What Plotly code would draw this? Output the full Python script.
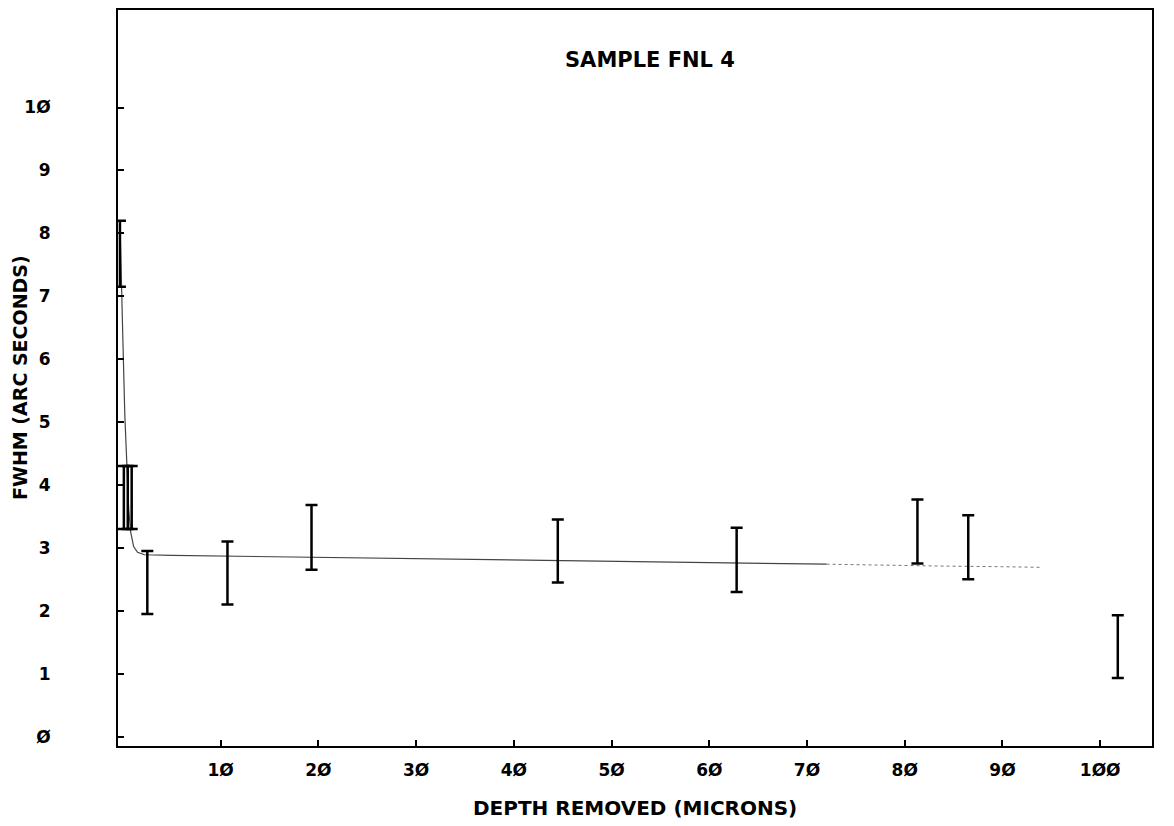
import plotly.graph_objects as go

# measured points: depth removed (microns), FWHM range (arc seconds)
depth = [-0.3, 0.1, 0.5, 0.9, 2.5, 10.7, 19.3, 44.5, 62.8, 81.3, 86.5, 101.8]
fwhm_low = [7.15, 3.3, 3.3, 3.3, 1.95, 2.1, 2.65, 2.45, 2.3, 2.75, 2.5, 0.93]
fwhm_high = [8.2, 4.3, 4.3, 4.3, 2.95, 3.1, 3.68, 3.45, 3.32, 3.77, 3.52, 1.93]

# fitted curve
fit_x = [-0.3, -0.15, 0.0, 0.2, 0.4, 0.6, 0.8, 1.1, 1.5, 2.2, 5, 10, 20, 30, 45, 63, 72]
fit_y = [8.2, 7.4, 6.3, 5.1, 4.2, 3.6, 3.25, 3.02, 2.93, 2.89, 2.88, 2.87, 2.85, 2.83, 2.8, 2.76, 2.74]
tail_x = [72, 78, 84, 90, 94]
tail_y = [2.74, 2.72, 2.71, 2.7, 2.69]

x_ticks = [10, 20, 30, 40, 50, 60, 70, 80, 90, 100]
x_ticktext = ["1Ø", "2Ø", "3Ø", "4Ø", "5Ø", "6Ø", "7Ø", "8Ø", "9Ø", "1ØØ"]
y_ticks = [0, 1, 2, 3, 4, 5, 6, 7, 8, 9, 10]
y_ticktext = ["Ø", "1", "2", "3", "4", "5", "6", "7", "8", "9", "1Ø"]

mid = [(a + b) / 2 for a, b in zip(fwhm_low, fwhm_high)]
half = [(b - a) / 2 for a, b in zip(fwhm_low, fwhm_high)]

tick_font = dict(family="DejaVu Sans", size=17, color="black", weight="bold")
label_font = dict(family="DejaVu Sans", size=20, color="black", weight="bold")

fig = go.Figure()
fig.add_trace(go.Scatter(
    x=fit_x, y=fit_y, mode="lines",
    line=dict(color="#444444", width=1.2),
    hoverinfo="skip",
))
fig.add_trace(go.Scatter(
    x=tail_x, y=tail_y, mode="lines",
    line=dict(color="#777777", width=1, dash="dot"),
    hoverinfo="skip",
))
fig.add_trace(go.Scatter(
    x=depth, y=mid, mode="markers",
    marker=dict(size=1, color="black"),
    error_y=dict(type="data", array=half, visible=True,
                 color="black", thickness=2.5, width=6),
))

# page body has an 8px margin, so margins are reduced by that amount
fig.update_layout(
    width=1174,
    height=826,
    paper_bgcolor="white",
    plot_bgcolor="white",
    showlegend=False,
    margin=dict(l=110, r=30, t=0, b=88),
    xaxis=dict(
        range=[-0.5, 105.3],
        tickvals=x_ticks,
        ticktext=x_ticktext,
        ticks="inside",
        ticklen=6,
        tickwidth=2,
        tickcolor="black",
        showline=True,
        linecolor="black",
        linewidth=2,
        mirror=True,
        showgrid=False,
        zeroline=False,
        tickfont=tick_font,
        ticklabelstandoff=8,
    ),
    yaxis=dict(
        range=[-0.15, 11.55],
        tickvals=y_ticks,
        ticktext=y_ticktext,
        ticks="inside",
        ticklen=6,
        tickwidth=2,
        tickcolor="black",
        showline=True,
        linecolor="black",
        linewidth=2,
        mirror=True,
        showgrid=False,
        zeroline=False,
        tickfont=tick_font,
        ticklabelstandoff=62,
    ),
    annotations=[
        dict(text="SAMPLE FNL 4", x=532 / 1034, y=1 - 50 / 738, xref="paper", yref="paper",
             xanchor="center", yanchor="middle", showarrow=False,
             font=dict(family="DejaVu Sans", size=21, color="black", weight="bold")),
        dict(text="DEPTH REMOVED (MICRONS)", x=0.5, y=-62 / 738, xref="paper", yref="paper",
             xanchor="center", yanchor="middle", showarrow=False, font=label_font),
        dict(text="FWHM (ARC SECONDS)", x=-98 / 1034, y=0.5, xref="paper", yref="paper",
             xanchor="center", yanchor="middle", textangle=-90, showarrow=False,
             font=dict(family="DejaVu Sans", size=19, color="black", weight="bold")),
    ],
)

fig.write_html("out.html")
